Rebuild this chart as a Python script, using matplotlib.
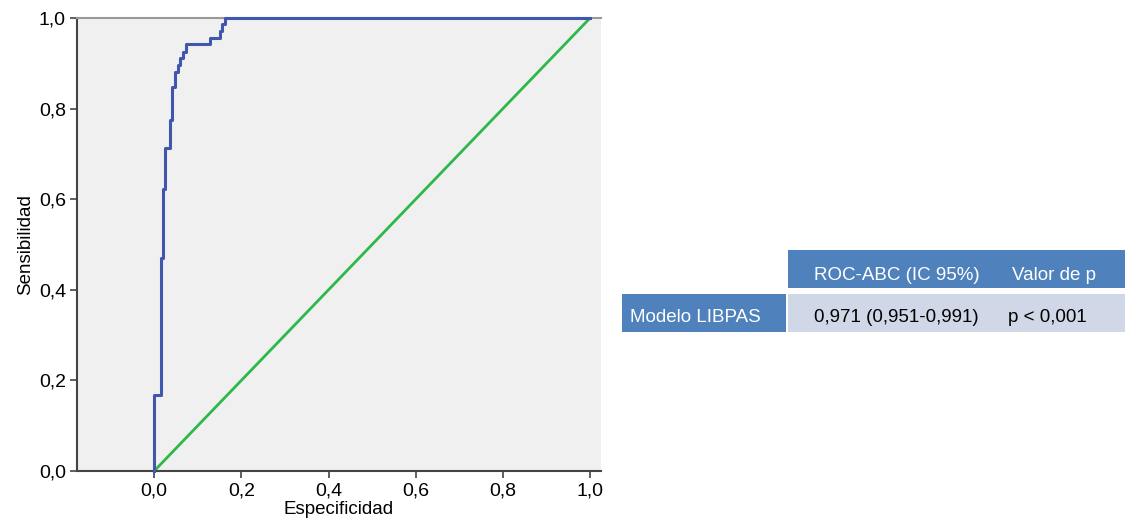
import matplotlib
matplotlib.use("Agg")
import matplotlib.pyplot as plt
from matplotlib.patches import Rectangle
from matplotlib.ticker import FuncFormatter

plt.rcParams['font.family'] = ['Liberation Sans', 'DejaVu Sans']

# ROC step vertices (vertical step first, then horizontal)
fpr = [0, 0.015, 0.020, 0.025, 0.037, 0.042, 0.048, 0.054, 0.060, 0.066,
       0.073, 0.128, 0.150, 0.155, 0.163, 1.0]
tpr = [0, 0.168, 0.470, 0.622, 0.713, 0.775, 0.848, 0.881, 0.896, 0.911,
       0.926, 0.942, 0.955, 0.972, 0.987, 1.0]
ref_line = [0, 1]

ticks = [0, 0.2, 0.4, 0.6, 0.8, 1.0]

col_headers = ['ROC-ABC (IC 95%)', 'Valor de p']
row_label = 'Modelo LIBPAS'
row_values = ['0,971 (0,951-0,991)', 'p < 0,001']

W, H = 1125, 518
fig = plt.figure(figsize=(W / 100, H / 100), dpi=100)
ax = fig.add_axes([77 / W, 47 / H, 524 / W, 453 / H])
ax.set_facecolor('#f0f0f0')

ax.plot(ref_line, ref_line, color='#2db84a', lw=2)
ax.plot(fpr, tpr, color='#3f57ad', lw=2.2, drawstyle='steps-pre', clip_on=False, zorder=5)

ax.set_xlim(-0.177, 1.025)
ax.set_ylim(0, 1.0)
ax.set_xticks(ticks)
ax.set_yticks(ticks)
fmt = FuncFormatter(lambda v, p: f'{v:.1f}'.replace('.', ','))
ax.xaxis.set_major_formatter(fmt)
ax.yaxis.set_major_formatter(fmt)
ax.tick_params(labelsize=14, length=5, width=1.2, color='#444444', pad=3)
for s in ['left', 'bottom']:
    ax.spines[s].set_color('#444444')
    ax.spines[s].set_linewidth(1.5)
ax.spines['top'].set_color('#999999')
ax.spines['top'].set_linewidth(1.5)
ax.spines['right'].set_visible(False)
ax.set_xlabel('Especificidad', fontsize=13.5, labelpad=1)
ax.set_ylabel('Sensibilidad', fontsize=13.5, labelpad=3)

# table
def fx(px):
    return px / W

def fy(py):
    return 1 - py / H

blue = '#4f81bd'
light = '#d0d8e8'
fig.add_artist(Rectangle((fx(788), fy(288)), fx(1125) - fx(788), fy(250) - fy(288),
                         transform=fig.transFigure, color=blue, lw=0))
fig.add_artist(Rectangle((fx(622), fy(332)), fx(786) - fx(622), fy(294) - fy(332),
                         transform=fig.transFigure, color=blue, lw=0))
fig.add_artist(Rectangle((fx(788), fy(332)), fx(1125) - fx(788), fy(294) - fy(332),
                         transform=fig.transFigure, color=light, lw=0))

for txt, cx in zip(col_headers, [897, 1054]):
    fig.text(fx(cx), fy(275), txt, ha='center', va='center', color='white', fontsize=13.5)
fig.text(fx(630), fy(318), row_label, ha='left', va='center', color='white', fontsize=13.5)
for txt, cx in zip(row_values, [896, 1047]):
    fig.text(fx(cx), fy(318), txt, ha='center', va='center', color='black', fontsize=13.5)

fig.savefig('out.png', dpi=100)
